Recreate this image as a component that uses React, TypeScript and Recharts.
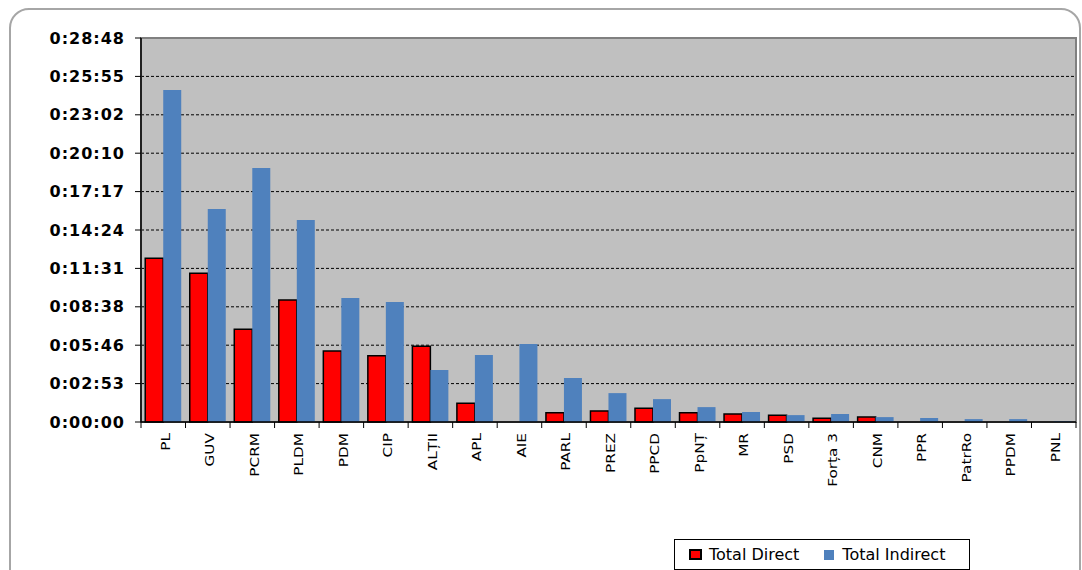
import React from 'react';
import { BarChart, Bar, XAxis, YAxis, CartesianGrid, Legend, ReferenceArea } from 'recharts';

const categories = ['PL', 'GUV', 'PCRM', 'PLDM', 'PDM', 'CIP', 'ALȚII', 'APL', 'AIE', 'PARL', 'PREZ', 'PPCD', 'PpNȚ', 'MR', 'PSD', 'Forța 3', 'CNM', 'PPR', 'PatrRo', 'PPDM', 'PNL'];
// durations in seconds
const totalDirect = [737, 669, 417, 549, 320, 298, 341, 84, 0, 42, 50, 62, 42, 36, 30, 17, 22, 0, 0, 0, 0];
const totalIndirect = [1494, 958, 1143, 909, 558, 540, 234, 301, 351, 198, 130, 103, 67, 45, 31, 36, 22, 18, 13, 13, 4];
const yTicks = [0, 172.8, 345.6, 518.4, 691.2, 864, 1036.8, 1209.6, 1382.4, 1555.2, 1728];
const seriesNames = ['Total Direct', 'Total Indirect'];

const data = categories.map((c, i) => ({ name: c, direct: totalDirect[i], indirect: totalIndirect[i] }));

const fmt = (v: number) => {
  const s = Math.round(v);
  const h = Math.floor(s / 3600);
  const m = Math.floor((s % 3600) / 60);
  const sec = s % 60;
  return `${h}:${String(m).padStart(2, '0')}:${String(sec).padStart(2, '0')}`;
};

const XTick = (props: any) => {
  const { x, y, payload, width, visibleTicksCount, index } = props;
  const band = width / visibleTicksCount;
  const left = x - band / 2;
  return (
    <g>
      <line x1={left} y1={y} x2={left} y2={y + 6} stroke="#000" strokeWidth={1} />
      {index === visibleTicksCount - 1 && (
        <line x1={left + band} y1={y} x2={left + band} y2={y + 6} stroke="#000" strokeWidth={1} />
      )}
      <text
        transform={`translate(${x + 2},${y + 11}) rotate(-90) scale(1.33,1)`}
        textAnchor="end"
        dominantBaseline="central"
        fontFamily="DejaVu Sans"
        fontSize={11.5}
        fill="#000"
      >
        {payload.value}
      </text>
    </g>
  );
};

const LegendContent = () => (
  <div
    style={{
      boxSizing: 'border-box',
      width: 296,
      height: 31,
      border: '1px solid #000',
      background: '#fff',
      display: 'flex',
      alignItems: 'center',
      fontFamily: 'DejaVu Sans',
      fontSize: 16,
      color: '#000',
      paddingLeft: 14,
    }}
  >
    <span style={{ display: 'inline-block', width: 9, height: 7, background: '#FF0000', border: '2px solid #000', marginRight: 7 }} />
    <span>{seriesNames[0]}</span>
    <span style={{ display: 'inline-block', width: 10, height: 10, background: '#4F81BD', marginLeft: 25, marginRight: 8 }} />
    <span>{seriesNames[1]}</span>
  </div>
);

export default function App() {
  return (
    <div style={{ position: 'absolute', left: 0, top: 0, width: 1082, height: 570, background: '#fff', overflow: 'hidden' }}>
      <div
        style={{
          position: 'absolute',
          left: 9,
          top: 8,
          width: 1072,
          height: 640,
          boxSizing: 'border-box',
          border: '2px solid #A6A6A6',
          borderRadius: 20,
        }}
      />
      <div style={{ position: 'absolute', left: 0, top: 0 }}>
        <BarChart
          width={1082}
          height={570}
          data={data}
          margin={{ top: 38, right: 6, bottom: 0, left: 0 }}
          barCategoryGap="9.5%"
          barGap={0}
        >
          <CartesianGrid vertical={false} fill="#C0C0C0" stroke="#000" strokeDasharray="3 2" strokeWidth={1} />
          <ReferenceArea y1={0} y2={1728} fill="none" stroke="#808080" strokeWidth={2} />
          <XAxis
            dataKey="name"
            interval={0}
            height={148}
            tickSize={0}
            tickMargin={0}
            tickLine={false}
            axisLine={{ stroke: '#000', strokeWidth: 1.5 }}
            tick={<XTick />}
          />
          <YAxis
            width={141}
            domain={[0, 1728]}
            ticks={yTicks}
            interval={0}
            tickFormatter={fmt}
            tickSize={6}
            tickMargin={10}
            axisLine={{ stroke: '#000', strokeWidth: 1.5 }}
            tickLine={{ stroke: '#000' }}
            tick={{ fill: '#000', fontFamily: 'DejaVu Sans', fontWeight: 'bold', fontSize: 16, letterSpacing: 1 }}
          />
          <Bar dataKey="direct" name={seriesNames[0]} fill="#FF0000" stroke="#000" strokeWidth={1.5} isAnimationActive={false} />
          <Bar dataKey="indirect" name={seriesNames[1]} fill="#4F81BD" isAnimationActive={false} />
          <Legend
            layout="horizontal"
            verticalAlign="middle"
            align="center"
            content={<LegendContent />}
            wrapperStyle={{ position: 'absolute', left: 674, top: 539, width: 296, height: 31 }}
          />
        </BarChart>
      </div>
    </div>
  );
}
